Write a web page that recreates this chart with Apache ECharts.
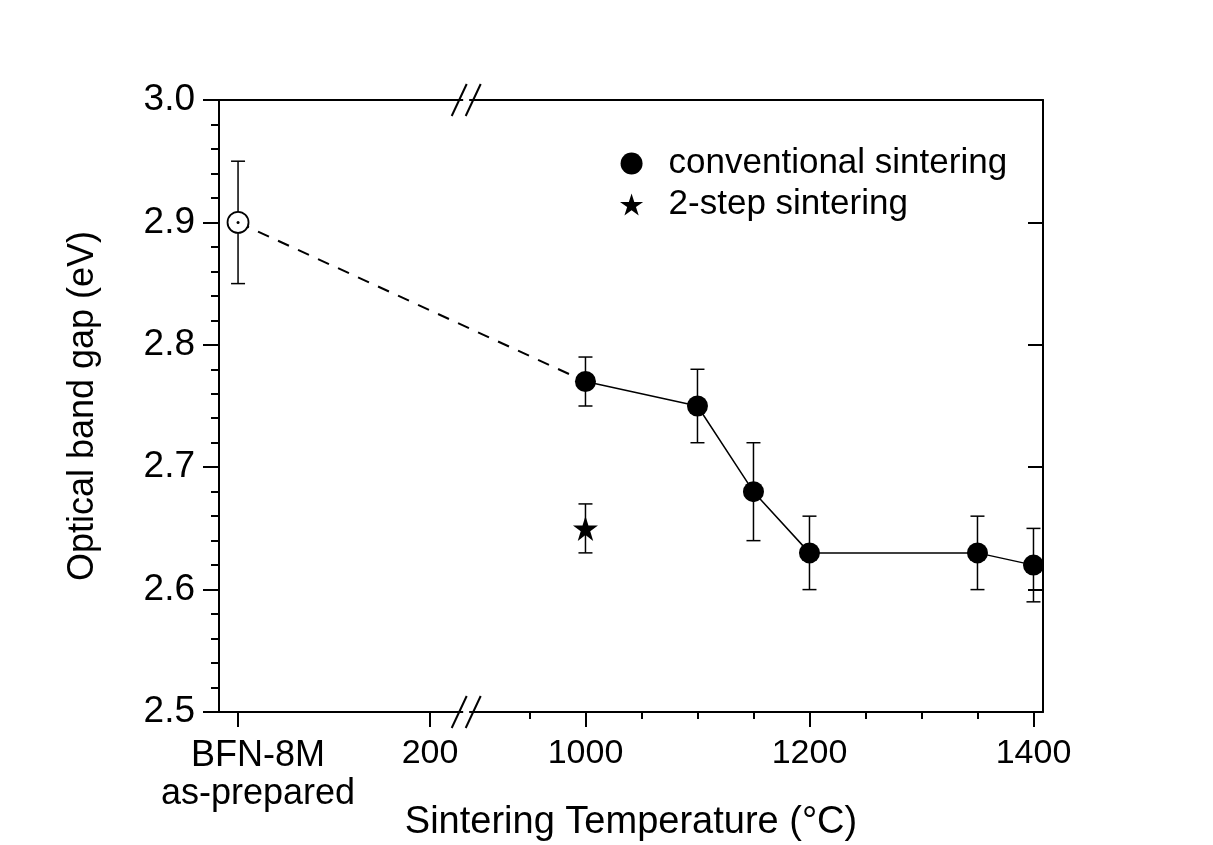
<!DOCTYPE html>
<html>
<head>
<meta charset="utf-8">
<script src="https://cdn.jsdelivr.net/npm/echarts@6/dist/echarts.min.js"></script>
<style>
  html, body { margin: 0; padding: 0; background: #ffffff; }
  #chart { width: 1213px; height: 845px; }
</style>
</head>
<body>
<div id="chart"></div>
<script>
// ---------------- DATA ----------------
// left (pre-break) segment: "as-prepared" sample and 200 tick, in left-segment units
const leftTickValues = [0, 200];
const leftTickLabels = ['BFN-8M\nas-prepared', '200'];
// right (post-break) segment: sintering temperatures (°C)
const rightTickValues = [1000, 1200, 1400];
const rightTickLabels = ['1000', '1200', '1400'];
const rightMinorTicks = [950, 1050, 1100, 1150, 1250, 1300, 1350];

// as-prepared powder
const asPreparedX = 0;
const asPreparedGap = 2.90;
const asPreparedLow = 2.85;
const asPreparedHigh = 2.95;

// conventional sintering
const convTemps = [1000, 1100, 1150, 1200, 1350, 1400];
const convGap = [2.77, 2.75, 2.68, 2.63, 2.63, 2.62];
const convLow = [2.75, 2.72, 2.64, 2.60, 2.60, 2.59];
const convHigh = [2.79, 2.78, 2.72, 2.66, 2.66, 2.65];

// 2-step sintering
const twoStepTemps = [1000];
const twoStepGap = [2.65];
const twoStepLow = [2.63];
const twoStepHigh = [2.67];

// ---------------- AXIS MAPPING (broken axis) ----------------
const AXIS_MIN = 672.8, AXIS_MAX = 1408.5;
const LEFT_ORIGIN = 689.8, LEFT_SCALE = (861.2 - 689.8) / 200;
const BREAK_POS = 893.5;
function leftPos(v) { return LEFT_ORIGIN + v * LEFT_SCALE; }
function rightPos(v) { return v; }

const majorPos = leftTickValues.map(leftPos).concat(rightTickValues.map(rightPos));
const majorLabels = leftTickLabels.concat(rightTickLabels);

const FONT = "'Liberation Sans', Arial, Helvetica, sans-serif";
const STAR = 'path://M100 0 L122.45 69.1 L195.1 69.1 L136.3 111.8 L158.8 180.9 L100 138.2 L41.2 180.9 L63.7 111.8 L4.9 69.1 L77.55 69.1 Z';

const errData = [[leftPos(asPreparedX), asPreparedLow, asPreparedHigh]]
  .concat(convTemps.map((t, i) => [rightPos(t), convLow[i], convHigh[i]]))
  .concat(twoStepTemps.map((t, i) => [rightPos(t), twoStepLow[i], twoStepHigh[i]]));

function renderErr(params, api) {
  const x = api.value(0);
  const pLo = api.coord([x, api.value(1)]);
  const pHi = api.coord([x, api.value(2)]);
  const w = 7;
  const st = { stroke: '#000', lineWidth: 1.5 };
  return {
    type: 'group',
    children: [
      { type: 'line', shape: { x1: pLo[0], y1: pLo[1], x2: pHi[0], y2: pHi[1] }, style: st },
      { type: 'line', shape: { x1: pLo[0] - w, y1: pLo[1], x2: pLo[0] + w, y2: pLo[1] }, style: st },
      { type: 'line', shape: { x1: pHi[0] - w, y1: pHi[1], x2: pHi[0] + w, y2: pHi[1] }, style: st }
    ]
  };
}

function renderBreak(params, api) {
  const p = api.coord([api.value(0), api.value(1)]);
  const st = { stroke: '#000', lineWidth: 2 };
  const h = 16, dx = 7.5, sep = 7;
  return {
    type: 'group',
    children: [
      { type: 'line', shape: { x1: p[0] - sep + 4, y1: p[1], x2: p[0] + sep - 4, y2: p[1] }, style: { stroke: '#fff', lineWidth: 4 } },
      { type: 'line', shape: { x1: p[0] - sep - dx, y1: p[1] + h, x2: p[0] - sep + dx, y2: p[1] - h }, style: st },
      { type: 'line', shape: { x1: p[0] + sep - dx, y1: p[1] + h, x2: p[0] + sep + dx, y2: p[1] - h }, style: st }
    ]
  };
}

const chart = echarts.init(document.getElementById('chart'), null, { renderer: 'canvas' });
const option = {
  backgroundColor: '#ffffff',
  animation: false,
  textStyle: { fontFamily: FONT, color: '#000' },
  grid: { left: 219, right: 170, top: 100, bottom: 133, containLabel: false, outerBoundsMode: 'none' },
  legend: {
    orient: 'vertical',
    left: 615,
    top: 141,
    itemWidth: 64,
    itemHeight: 22,
    itemGap: 6,
    textStyle: { fontFamily: FONT, fontSize: 35, color: '#000' },
    data: [
      { name: 'conventional sintering', icon: 'circle', itemStyle: { color: '#000', opacity: 1 } },
      { name: '2-step sintering', icon: STAR, itemStyle: { color: '#000', opacity: 1 } }
    ]
  },
  xAxis: [
    {
      type: 'value', position: 'bottom', min: AXIS_MIN, max: AXIS_MAX,
      name: 'Sintering Temperature (°C)', nameLocation: 'middle', nameGap: 92, nameMoveOverlap: false,
      nameTextStyle: { fontFamily: FONT, fontSize: 38, color: '#000' },
      axisLine: { show: true, lineStyle: { color: '#000', width: 2 } },
      axisTick: { show: true, inside: false, length: 15, lineStyle: { color: '#000', width: 2 }, customValues: majorPos },
      axisLabel: {
        show: true, margin: 25, fontSize: 34, color: '#000', fontFamily: FONT,
        customValues: majorPos,
        formatter: function (v) {
          const i = majorPos.findIndex(p => Math.abs(p - v) < 0.5);
          if (i === 0) {
            const parts = majorLabels[0].split('\n');
            return '{b|' + parts[0] + '}\n{b|' + parts[1] + '}';
          }
          return i >= 0 ? majorLabels[i] : '';
        },
        rich: { b: { fontSize: 36, lineHeight: 38, fontFamily: FONT, color: '#000', padding: [0, 0, 0, 40] } }
      },
      splitLine: { show: false }
    },
    {
      type: 'value', position: 'bottom', min: AXIS_MIN, max: AXIS_MAX,
      axisLine: { show: false },
      axisTick: { show: true, inside: false, length: 7, lineStyle: { color: '#000', width: 2 }, customValues: rightMinorTicks.map(rightPos) },
      axisLabel: { show: false },
      splitLine: { show: false }
    },
    {
      type: 'value', position: 'top', min: AXIS_MIN, max: AXIS_MAX,
      axisLine: { show: true, lineStyle: { color: '#000', width: 2 } },
      axisTick: { show: false }, axisLabel: { show: false }, splitLine: { show: false }
    }
  ],
  yAxis: [
    {
      type: 'value', position: 'left', min: 2.5, max: 3.0, interval: 0.1,
      name: 'Optical band gap (eV)', nameLocation: 'middle', nameGap: 118, nameMoveOverlap: false,
      nameTextStyle: { fontFamily: FONT, fontSize: 36, color: '#000' },
      axisLine: { show: true, lineStyle: { color: '#000', width: 2 } },
      axisTick: { show: true, inside: false, length: 16, lineStyle: { color: '#000', width: 2 } },
      minorTick: { show: true, splitNumber: 5, length: 8, lineStyle: { color: '#000', width: 2 } },
      axisLabel: { margin: 24, fontSize: 37, color: '#000', fontFamily: FONT, formatter: v => v.toFixed(1) },
      splitLine: { show: false }
    },
    {
      type: 'value', position: 'right', min: 2.5, max: 3.0, interval: 0.1,
      axisLine: { show: true, lineStyle: { color: '#000', width: 2 } },
      axisTick: { show: true, inside: true, length: 15, lineStyle: { color: '#000', width: 2 } },
      axisLabel: { show: false }, splitLine: { show: false }
    }
  ],
  series: [
    {
      name: 'errorbars', type: 'custom', renderItem: renderErr, data: errData,
      encode: { x: 0, y: [1, 2] }, z: 1, silent: true
    },
    {
      name: 'dashed', type: 'line', showSymbol: false, symbol: 'none',
      data: [[leftPos(asPreparedX), asPreparedGap], [rightPos(convTemps[0]), convGap[0]]],
      lineStyle: { color: '#000', width: 2, type: [12, 10] }, z: 2, silent: true
    },
    {
      name: 'conventional sintering', type: 'line',
      data: convTemps.map((t, i) => [rightPos(t), convGap[i]]),
      symbol: 'circle', symbolSize: 21, showSymbol: true,
      itemStyle: { color: '#000', opacity: 1 },
      lineStyle: { color: '#000', width: 1.5 }, z: 3
    },
    {
      name: 'as-prepared', type: 'scatter',
      data: [[leftPos(asPreparedX), asPreparedGap]],
      symbol: 'circle', symbolSize: 21,
      itemStyle: { color: '#fff', borderColor: '#000', borderWidth: 1.8, opacity: 1 }, z: 4
    },
    {
      name: 'as-prepared-dot', type: 'scatter',
      data: [[leftPos(asPreparedX), asPreparedGap]],
      symbol: 'circle', symbolSize: 3,
      itemStyle: { color: '#000', opacity: 1 }, z: 5
    },
    {
      name: '2-step sintering', type: 'scatter',
      data: twoStepTemps.map((t, i) => [rightPos(t), twoStepGap[i]]),
      symbol: STAR, symbolSize: 25,
      itemStyle: { color: '#000', opacity: 1 }, z: 4
    },
    {
      name: 'break', type: 'custom', renderItem: renderBreak,
      data: [[BREAK_POS, 2.5], [BREAK_POS, 3.0]],
      encode: { x: 0, y: 1 }, z: 10, silent: true, clip: false
    }
  ]
};
chart.setOption(option);
</script>
</body>
</html>
